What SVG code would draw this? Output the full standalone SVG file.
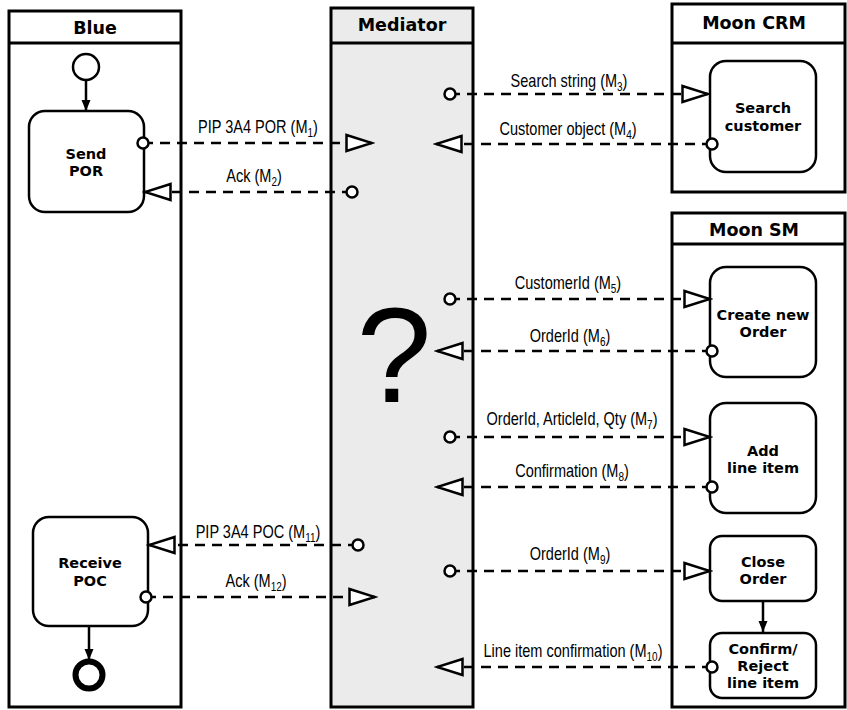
<svg xmlns="http://www.w3.org/2000/svg" width="847" height="710" viewBox="0 0 847 710">
<style>
.lane{fill:#fff;stroke:#000;stroke-width:3}
.med{fill:#ebebeb}
.hdr{font-family:"DejaVu Sans",Verdana,sans-serif;font-weight:bold;font-size:17.5px;text-anchor:middle;fill:#000}
.box{fill:#fff;stroke:#000;stroke-width:2.5}
.nt{font-family:"DejaVu Sans",Verdana,sans-serif;font-weight:bold;font-size:14.5px;text-anchor:middle;fill:#000}
.msg{fill:none;stroke:#000;stroke-width:2.5;stroke-dasharray:10 7;marker-start:url(#dot);marker-end:url(#tri)}
.lbl{font-family:"Liberation Sans",Arial,sans-serif;font-size:17.5px;text-anchor:middle;fill:#000}
.sub{font-size:12px}
.flow{fill:none;stroke:#000;stroke-width:2.5;marker-end:url(#ah)}
</style>
<defs>
<marker id="tri" markerUnits="userSpaceOnUse" markerWidth="30" markerHeight="20" refX="27" refY="10" orient="auto" viewBox="0 0 30 20">
<path d="M1.5,2 L27,10 L1.5,18 Z" fill="#fff" stroke="#000" stroke-width="2.5"/>
</marker>
<marker id="dot" markerUnits="userSpaceOnUse" markerWidth="16" markerHeight="16" refX="8" refY="8" orient="auto" viewBox="0 0 16 16">
<circle cx="8" cy="8" r="5.5" fill="#fff" stroke="#000" stroke-width="2.5"/>
</marker>
<marker id="ah" markerUnits="userSpaceOnUse" markerWidth="12" markerHeight="12" refX="11" refY="6" orient="auto" viewBox="0 0 12 12">
<path d="M0,1.5 L11,6 L0,10.5 Z" fill="#000"/>
</marker>
</defs>

<g id="lane-blue">
<rect class="lane" x="9" y="11" width="172" height="696"/>
<line x1="9" y1="43" x2="181" y2="43" stroke="#000" stroke-width="3"/>
<text class="hdr" x="95" y="34">Blue</text>
</g>
<g id="lane-mediator">
<rect class="lane med" x="331" y="8" width="142" height="699"/>
<line x1="331" y1="43" x2="473" y2="43" stroke="#000" stroke-width="3"/>
<text class="hdr" x="402" y="31">Mediator</text>
<text x="394" y="402" font-family="'Liberation Sans',Arial,sans-serif" font-size="135" text-anchor="middle">?</text>
</g>
<g id="lane-mooncrm">
<rect class="lane" x="672" y="4" width="173" height="188"/>
<line x1="672" y1="43" x2="845" y2="43" stroke="#000" stroke-width="3"/>
<text class="hdr" x="754" y="29">Moon CRM</text>
</g>
<g id="lane-moonsm">
<rect class="lane" x="672" y="213" width="173" height="494"/>
<line x1="672" y1="244" x2="845" y2="244" stroke="#000" stroke-width="3"/>
<text class="hdr" x="754" y="236">Moon SM</text>
</g>

<g id="start">
<circle cx="86" cy="67" r="13" fill="#fff" stroke="#000" stroke-width="2.5"/>
</g>
<g id="end">
<circle cx="89" cy="675" r="13.5" fill="#fff" stroke="#000" stroke-width="6"/>
</g>
<g id="send-por">
<rect class="box" x="29" y="111" width="115" height="101" rx="16"/>
<text class="nt" x="86" y="159">Send</text>
<text class="nt" x="86" y="176">POR</text>
</g>
<g id="receive-poc">
<rect class="box" x="33" y="517" width="115" height="109" rx="16"/>
<text class="nt" x="90" y="568">Receive</text>
<text class="nt" x="90" y="586">POC</text>
</g>
<g id="search-customer">
<rect class="box" x="710" y="61" width="106" height="111" rx="16"/>
<text class="nt" x="763" y="113">Search</text>
<text class="nt" x="763" y="131">customer</text>
</g>
<g id="create-order">
<rect class="box" x="710" y="267" width="106" height="110" rx="16"/>
<text class="nt" x="763" y="320">Create new</text>
<text class="nt" x="763" y="337">Order</text>
</g>
<g id="add-line-item">
<rect class="box" x="710" y="403" width="106" height="110" rx="16"/>
<text class="nt" x="763" y="456">Add</text>
<text class="nt" x="763" y="473">line item</text>
</g>
<g id="close-order">
<rect class="box" x="710" y="536" width="106" height="65" rx="12"/>
<text class="nt" x="763" y="567">Close</text>
<text class="nt" x="763" y="584">Order</text>
</g>
<g id="confirm-reject">
<rect class="box" x="710" y="633" width="106" height="65" rx="12"/>
<text class="nt" x="763" y="654">Confirm/</text>
<text class="nt" x="763" y="671">Reject</text>
<text class="nt" x="763" y="688">line item</text>
</g>

<g id="connectors">
<line class="flow" x1="86" y1="80" x2="86" y2="111"/>
<line class="flow" x1="89" y1="626" x2="89" y2="660"/>
<line class="flow" x1="763" y1="601" x2="763" y2="632"/>

<line class="msg" x1="143" y1="143" x2="372" y2="143"/>
<line class="msg" x1="352" y1="192" x2="145" y2="192"/>
<line class="msg" x1="450" y1="94" x2="708" y2="94"/>
<line class="msg" x1="712" y1="144" x2="436" y2="144"/>
<line class="msg" x1="450" y1="299" x2="710" y2="299"/>
<line class="msg" x1="712" y1="351" x2="437" y2="351"/>
<line class="msg" x1="450" y1="437" x2="710" y2="437"/>
<line class="msg" x1="712" y1="487" x2="437" y2="487"/>
<line class="msg" x1="450" y1="571" x2="710" y2="571"/>
<line class="msg" x1="712" y1="667" x2="437" y2="667"/>
<line class="msg" x1="358" y1="545" x2="149" y2="545"/>
<line class="msg" x1="146" y1="597" x2="375" y2="597"/>

<text class="lbl" transform="translate(258,133) scale(0.83,1)">PIP 3A4 POR (M<tspan class="sub" dy="4">1</tspan><tspan dy="-4">)</tspan></text>
<text class="lbl" transform="translate(254,182) scale(0.83,1)">Ack (M<tspan class="sub" dy="4">2</tspan><tspan dy="-4">)</tspan></text>
<text class="lbl" transform="translate(569,87) scale(0.83,1)">Search string (M<tspan class="sub" dy="4">3</tspan><tspan dy="-4">)</tspan></text>
<text class="lbl" transform="translate(568,135) scale(0.83,1)">Customer object (M<tspan class="sub" dy="4">4</tspan><tspan dy="-4">)</tspan></text>
<text class="lbl" transform="translate(568,289) scale(0.83,1)">CustomerId (M<tspan class="sub" dy="4">5</tspan><tspan dy="-4">)</tspan></text>
<text class="lbl" transform="translate(570,342) scale(0.83,1)">OrderId (M<tspan class="sub" dy="4">6</tspan><tspan dy="-4">)</tspan></text>
<text class="lbl" transform="translate(572,425) scale(0.83,1)">OrderId, ArticleId, Qty (M<tspan class="sub" dy="4">7</tspan><tspan dy="-4">)</tspan></text>
<text class="lbl" transform="translate(572,477) scale(0.83,1)">Confirmation (M<tspan class="sub" dy="4">8</tspan><tspan dy="-4">)</tspan></text>
<text class="lbl" transform="translate(570,560) scale(0.83,1)">OrderId (M<tspan class="sub" dy="4">9</tspan><tspan dy="-4">)</tspan></text>
<text class="lbl" transform="translate(573,657) scale(0.83,1)">Line item confirmation (M<tspan class="sub" dy="4">10</tspan><tspan dy="-4">)</tspan></text>
<text class="lbl" transform="translate(258,538) scale(0.83,1)">PIP 3A4 POC (M<tspan class="sub" dy="4">11</tspan><tspan dy="-4">)</tspan></text>
<text class="lbl" transform="translate(256,587) scale(0.83,1)">Ack (M<tspan class="sub" dy="4">12</tspan><tspan dy="-4">)</tspan></text>
</g>
</svg>
